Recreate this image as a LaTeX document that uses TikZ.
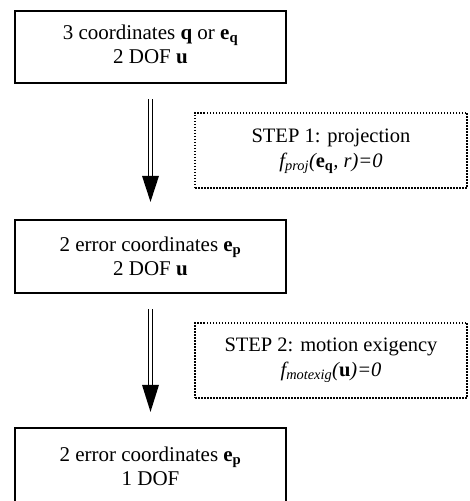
\documentclass[tikz,border=0pt]{standalone}
\usepackage{fontspec}
\setmainfont{Liberation Serif}
\begin{document}
\begin{tikzpicture}[x=1pt,y=1pt,
  statebox/.style={draw=black, line width=2.2pt, minimum width=271pt, align=center,
    inner sep=0pt, font=\fontsize{21}{24}\selectfont},
  opbox/.style={draw=black, line width=1.6pt, dash pattern=on 1.5pt off 1.5pt,
    minimum width=272pt, minimum height=75pt, align=center, inner sep=0pt,
    font=\fontsize{20.5}{25}\selectfont},
  shaft/.style={draw=black, line width=1.4pt, double=white, double distance=2.6pt},
  head/.style={fill=black}]
\useasboundingbox (0,0) rectangle (469,501);
\clip (0,0) rectangle (469,501);

% states of the reduction
\node[statebox, minimum height=72pt, text depth=6pt] (b1) at (150.5,454)
  {3 coordinates \textbf{q} or \textbf{e}\textsubscript{\textbf{q}}\\2 DOF \textbf{u}};
\node[statebox, minimum height=73pt] (b2) at (150.5,244.5)
  {2 error coordinates \textbf{e}\textsubscript{\textbf{p}}\\2 DOF \textbf{u}};
\node[statebox, minimum height=76pt] (b3) at (150.5,35)
  {2 error coordinates \textbf{e}\textsubscript{\textbf{p}}\\1 DOF};

% operations applied between the states
\node[opbox, text depth=5pt] (s1) at (331,350.5)
  {STEP 1: projection\\{\itshape f\textsubscript{proj}(\textbf{\upshape e}\textsubscript{\textbf{\upshape q}}, r)=0}};
\node[opbox, text depth=6pt] (s2) at (331,140.5)
  {STEP 2: motion exigency\\{\itshape f\textsubscript{motexig}(\textbf{\upshape u})=0}};

% double-line arrows
\coordinate (t1) at ([yshift=17]b2.north);
\coordinate (t2) at ([yshift=15]b3.north);
\draw[shaft] ([yshift=-15]b1.south) -- ([yshift=25]t1);
\fill[head] (t1) -- ++(-8.5,26) -- ++(17,0) -- cycle;
\draw[shaft] ([yshift=-15]b2.south) -- ([yshift=25]t2);
\fill[head] (t2) -- ++(-8.5,27) -- ++(17,0) -- cycle;
\end{tikzpicture}
\end{document}
